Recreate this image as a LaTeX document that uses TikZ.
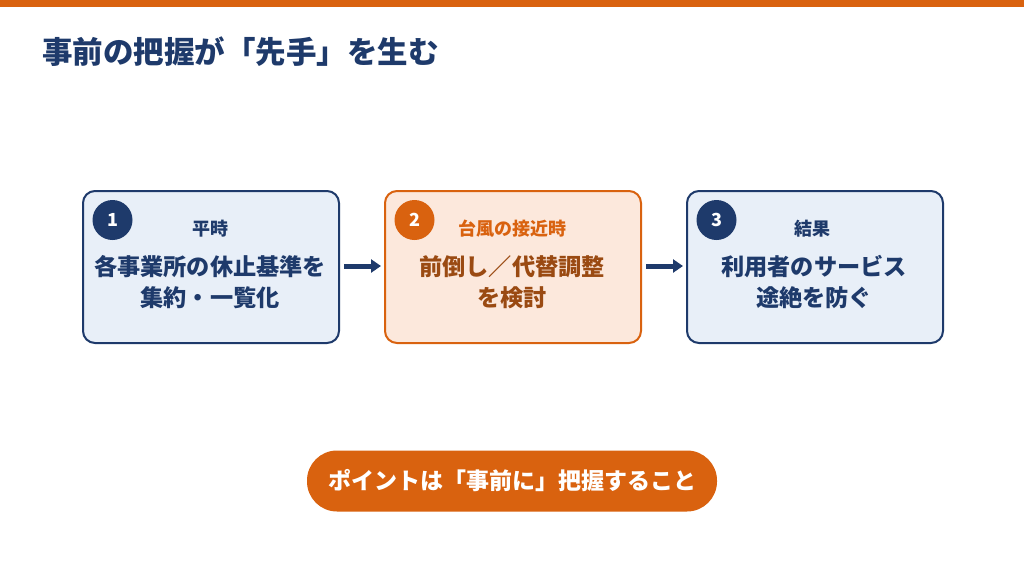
\documentclass[tikz,border=0pt]{standalone}
\usepackage{fontspec}
\newfontfamily\jp{Noto Sans CJK JP}
\usetikzlibrary{arrows.meta}
\definecolor{navy}{HTML}{1E3A6B}
\definecolor{orng}{HTML}{D9620F}
\definecolor{brwn}{HTML}{9A4A12}
\definecolor{lblue}{HTML}{E8EFF8}
\definecolor{lorng}{HTML}{FCE8DC}
\tikzset{
  card/.style={rounded corners=12pt, line width=2pt, minimum width=256pt, minimum height=152pt, anchor=north west},
  numdot/.style={circle, minimum size=40pt, inner sep=0pt, text=white, font=\jp\bfseries\fontsize{18}{18}\selectfont},
  sub/.style={font=\jp\bfseries\fontsize{18}{18}\selectfont},
  mainline/.style={align=center, font=\jp\bfseries\fontsize{23.2}{31}\selectfont},
  flow/.style={-{Triangle[length=10pt,width=13pt]}, line width=5pt, navy},
}
\begin{document}
\begin{tikzpicture}[x=1pt,y=-1pt]
\useasboundingbox (0,0) rectangle (1024,573);
\fill[white] (0,0) rectangle (1024,573);
\fill[orng] (0,0) rectangle (1024,7);
\node[anchor=west, inner sep=0pt, text=navy, font=\jp\bfseries\fontsize{30.5}{30.5}\selectfont] (title) at (42,52) {事前の把握が「先手」を生む};

\node[card, draw=navy, fill=lblue] (b1) at (82,190) {};
\node[card, draw=orng, fill=lorng] (b2) at (384,190) {};
\node[card, draw=navy, fill=lblue] (b3) at (686,190) {};

\node[numdot, fill=navy] (n1) at (112.5,220) {1};
\node[numdot, fill=orng] (n2) at (414.5,220) {2};
\node[numdot, fill=navy] (n3) at (716.5,220) {3};

\node[sub, text=navy] (s1) at (210,229) {平時};
\node[sub, text=orng] (s2) at (512,229) {台風の接近時};
\node[sub, text=navy] (s3) at (812,229) {結果};

\node[mainline, text=navy] (m1) at (210,282) {各事業所の休止基準を\\集約・一覧化};
\node[mainline, text=brwn] (m2) at (512,282) {前倒し／代替調整\\を検討};
\node[mainline, text=navy] (m3) at (814,282) {利用者のサービス\\途絶を防ぐ};

\draw[flow] ([xshift=4pt]b1.east |- 0,266) coordinate (a1s) -- ([xshift=-3pt]b2.west |- 0,266) coordinate (a1e);
\draw[flow] ([xshift=4pt]b2.east |- 0,266) coordinate (a2s) -- ([xshift=-3pt]b3.west |- 0,266) coordinate (a2e);

\node[fill=orng, rounded corners=30pt, minimum width=410pt, minimum height=61pt, text=white, font=\jp\bfseries\fontsize{23}{23}\selectfont] (pt) at (512,481) {ポイントは「事前に」把握すること};
\end{tikzpicture}
\end{document}
